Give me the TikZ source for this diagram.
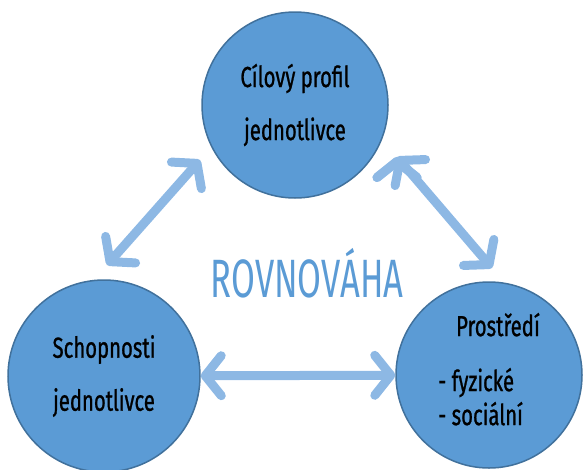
\documentclass[tikz,border=0pt]{standalone}
\usepackage{fontspec}
\setmainfont[FakeStretch=0.7, FakeBold=0.8]{Fira Sans}
\newfontfamily\titlefont[FakeStretch=0.64]{Fira Sans}
\usetikzlibrary{arrows.meta,calc}
\definecolor{circfill}{HTML}{5B9BD5}
\definecolor{circline}{HTML}{41719C}
\definecolor{arrowblue}{HTML}{8DB8E4}

\begin{document}
\begin{tikzpicture}[x=1pt, y=-1pt,
  ball/.style={circle, draw=circline, fill=circfill, line width=1.5pt,
    minimum size=186pt, inner sep=0pt, align=center,
    font=\fontsize{29}{53}\selectfont},
  twoway/.style={draw=arrowblue, line width=9pt, {Straight Barb[round, length=16pt, width=40pt]}-{Straight Barb[round, length=16pt, width=40pt]}}]
\useasboundingbox (0,0) rectangle (583,469);

\node[ball] (Cil) at (295,105) {Cílový profil\\jednotlivce};
\node[ball, minimum size=192pt] (Sch) at (104,376) {Schopnosti\\jednotlivce};
\node[ball, align=left, font=\fontsize{29}{34}\selectfont] (Pro) at (489,375)
  {\hspace*{18pt}Prostředí\\[21pt]- fyzické\\- sociální\\[-22pt]};

\node[text=circfill, font=\titlefont\fontsize{54}{54}\selectfont] (Rov) at (307,273) {ROVNOVÁHA};

% free ends of the diagonal arrows
\coordinate (SchUp) at ([shift={(3,-111)}]Sch.center);
\coordinate (CilL) at ([shift={(-95,55)}]Cil.center);
\coordinate (CilR) at ([shift={(102,52)}]Cil.center);
\coordinate (ProUp) at ([shift={(3,-107)}]Pro.center);

\path[twoway] (SchUp) edge (CilL)
              (CilR) edge (ProUp)
              (Sch) edge (Pro);
\end{tikzpicture}
\end{document}
